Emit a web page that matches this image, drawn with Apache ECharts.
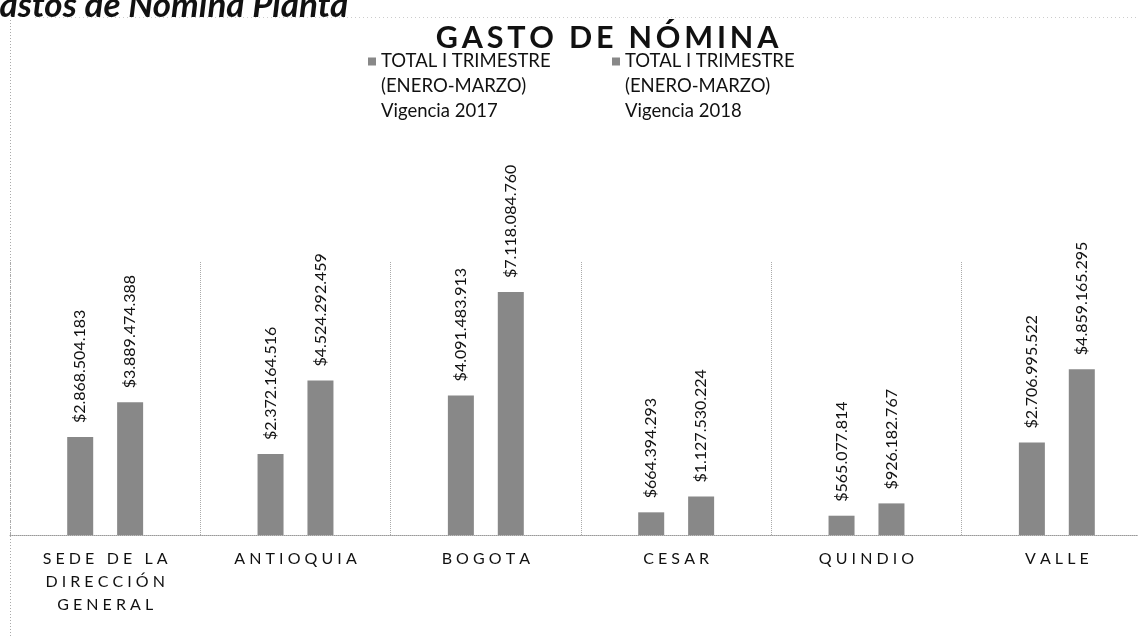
<!DOCTYPE html>
<html>
<head>
<meta charset="utf-8">
<script src="https://cdn.jsdelivr.net/npm/echarts@6/dist/echarts.min.js"></script>
<style>html,body{margin:0;padding:0;background:#fff;overflow:hidden}#c{width:1152px;height:638px}</style>
</head>
<body>
<div id="c"></div>
<script>
const categories = ['SEDE DE LA\nDIRECCIÓN\nGENERAL', 'ANTIOQUIA', 'BOGOTA', 'CESAR', 'QUINDIO', 'VALLE'];
const values2017 = [2868504183, 2372164516, 4091483913, 664394293, 565077814, 2706995522];
const values2018 = [3889474388, 4524292459, 7118084760, 1127530224, 926182767, 4859165295];
const seriesNames = ['TOTAL I TRIMESTRE\n(ENERO-MARZO)\nVigencia 2017', 'TOTAL I TRIMESTRE\n(ENERO-MARZO)\nVigencia 2018'];
const chartTitle = 'GASTO DE NÓMINA';
const pageTitle = 'Gastos de Nómina Planta';

const FONT = 'Lato';
const GRAY = '#888888';

function spaced(s, gap) {
  return s.split('\n').map(line => line.split('').join(gap)).join('\n');
}
function money(v) {
  return '$' + String(v).replace(/\B(?=(\d{3})+(?!\d))/g, '.');
}

const chart = echarts.init(document.getElementById('c'), null, {renderer: 'canvas'});

const labelOpt = {
  show: true,
  position: 'top',
  rotate: 90,
  align: 'left',
  verticalAlign: 'middle',
  distance: 14,
  fontFamily: FONT,
  fontSize: 16,
  color: '#111',
  formatter: p => money(p.value)
};

// icon: 8x8 square at the top of a tall, otherwise empty box, so it sits beside the first text line
const LH = 25;
const legendIcon = 'path://M0,0L8,0L8,8L0,8Z M0,58L0.01,58L0.01,58.01L0,58.01Z';
const legendBase = {
  top: 49,
  padding: 0,
  itemWidth: 8,
  itemHeight: 58,
  icon: legendIcon,
  itemStyle: {color: GRAY},
  textStyle: {fontFamily: FONT, fontSize: 18.5, lineHeight: LH, color: '#111'}
};

chart.setOption({
  animation: false,
  backgroundColor: '#fff',
  title: [
    {
      text: spaced(chartTitle, '\u2009'),
      left: 607,
      textAlign: 'center',
      top: 23,
      padding: 0,
      textStyle: {fontFamily: FONT, fontWeight: 'bold', fontSize: 30.5, color: '#111'}
    },
    {
      text: pageTitle,
      left: -24,
      top: -12,
      padding: 0,
      textStyle: {fontFamily: FONT, fontWeight: 'bold', fontStyle: 'italic', fontSize: 35, color: '#111'}
    }
  ],
  legend: [
    Object.assign({}, legendBase, {data: [seriesNames[0]], left: 368}),
    Object.assign({}, legendBase, {data: [seriesNames[1]], left: 612})
  ],
  grid: {left: 10, right: 0, top: 262, bottom: 103, containLabel: false},
  xAxis: {
    type: 'category',
    data: categories,
    axisTick: {show: false},
    axisLine: {show: true, lineStyle: {color: '#999', type: 'dotted', width: 1}},
    splitLine: {show: true, lineStyle: {color: '#aaa', type: 'dotted', width: 1}},
    axisLabel: {
      margin: 12,
      fontFamily: FONT,
      fontSize: 16,
      lineHeight: 23,
      color: '#111',
      interval: 0,
      formatter: v => spaced(v, ' ')
    }
  },
  yAxis: {
    type: 'value',
    min: 0,
    max: 8000000000,
    show: false,
    splitLine: {show: false}
  },
  series: [
    {
      name: seriesNames[0],
      type: 'bar',
      data: values2017,
      barWidth: 26,
      barGap: '92%',
      itemStyle: {color: GRAY},
      label: labelOpt
    },
    {
      name: seriesNames[1],
      type: 'bar',
      data: values2018,
      barWidth: 26,
      itemStyle: {color: GRAY},
      label: labelOpt
    }
  ],
  graphic: [
    {type: 'line', shape: {x1: 10.5, y1: 20, x2: 10.5, y2: 638}, style: {stroke: '#aaa', lineWidth: 1, lineDash: [1, 2]}, silent: true},
    {type: 'line', shape: {x1: 35, y1: 17.5, x2: 1152, y2: 17.5}, style: {stroke: '#ccc', lineWidth: 1, lineDash: [1, 3]}, silent: true}
  ]
});
</script>
</body>
</html>
